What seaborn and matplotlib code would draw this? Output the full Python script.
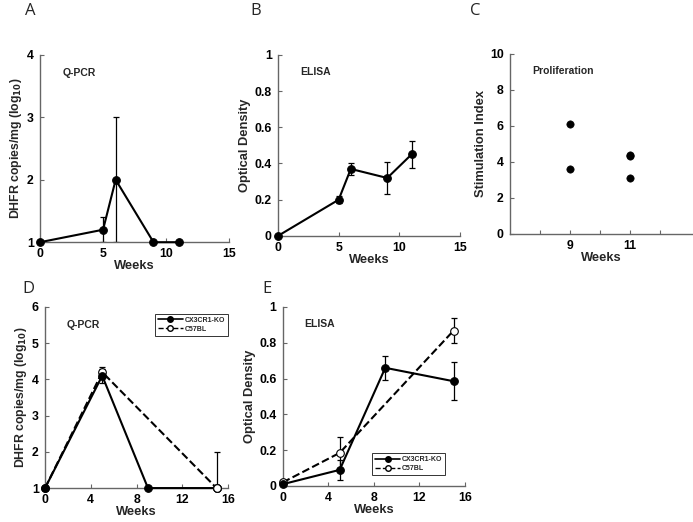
import numpy as np
import pandas as pd
import matplotlib
matplotlib.use("Agg")
import matplotlib.pyplot as plt
import seaborn as sns
from matplotlib.lines import Line2D

sns.set_style("ticks")
plt.rcParams['font.family'] = ['Liberation Sans', 'DejaVu Sans']

# --- data ---
# A: Q-PCR
a_weeks = [0, 5, 6, 9, 11]
a_vals = [1.0, 1.2, 2.0, 1.0, 1.0]
a_err = [0, 0.2, 1.0, 0, 0]

# B: ELISA
b_weeks = [0, 5, 6, 9, 11]
b_vals = [0.0, 0.2, 0.37, 0.32, 0.45]
b_err = [0, 0.02, 0.035, 0.087, 0.075]

# C: proliferation
c_weeks = [9, 9, 11, 11, 11]
c_vals = [6.1, 3.6, 4.4, 4.3, 3.1]

# D: Q-PCR, two strains
d_ko_weeks = [0, 5, 9, 15]
d_ko_vals = [1.0, 4.1, 1.0, 1.0]
d_ko_err = [0, 0.2, 0, 0]
d_wt_weeks = [0, 5, 15]
d_wt_vals = [1.0, 4.2, 1.0]
d_wt_err = [0, 0.15, 1.0]

# E: ELISA, two strains
e_ko_weeks = [0, 5, 9, 15]
e_ko_vals = [0.01, 0.09, 0.66, 0.585]
e_ko_err = [0, 0.055, 0.067, 0.107]
e_wt_weeks = [0, 5, 15]
e_wt_vals = [0.02, 0.185, 0.868]
e_wt_err = [0, 0.087, 0.07]

tick_font = dict(fontsize=8.8, fontweight='bold')
label_font = dict(fontsize=9.3, fontweight='bold')
AXIS_GREY = '#666666'

fig = plt.figure(figsize=(6.93, 5.22), dpi=100)
axA = fig.add_axes([0.0577, 0.536, 0.273, 0.359])
axB = fig.add_axes([0.401, 0.548, 0.263, 0.347])
axC = fig.add_axes([0.736, 0.552, 0.264, 0.345])
axD = fig.add_axes([0.065, 0.065, 0.264, 0.347])
axE = fig.add_axes([0.408, 0.069, 0.263, 0.343])


def style(ax, xlim, ylim, xticks, yticks, xlabels=None, ylabels=None):
    ax.set_xlim(*xlim)
    ax.set_ylim(*ylim)
    ax.set_xticks(xticks)
    ax.set_yticks(yticks)
    ax.set_xticklabels(xlabels if xlabels is not None else [str(t) for t in xticks], **tick_font)
    ax.set_yticklabels(ylabels if ylabels is not None else [str(t) for t in yticks], **tick_font)
    ax.tick_params(direction='in', length=3, width=0.8, pad=4.5, color=AXIS_GREY, labelcolor='black')
    for s in ['top', 'right']:
        ax.spines[s].set_visible(False)
    for s in ['left', 'bottom']:
        ax.spines[s].set_linewidth(1.0)
        ax.spines[s].set_color(AXIS_GREY)
    ax.set_xlabel('Weeks', labelpad=0, **label_font)


def line(ax, x, y, err, dashed=False, filled=True):
    ax.errorbar(x, y, yerr=err, fmt='none', ecolor='black', elinewidth=0.9,
                capsize=2.5, capthick=0.9, zorder=2)
    sns.lineplot(x=x, y=y, ax=ax, color='black', lw=1.5,
                 linestyle='--' if dashed else '-', marker='o', markersize=5.5,
                 markerfacecolor='black' if filled else 'white',
                 markeredgecolor='black', markeredgewidth=0.8,
                 errorbar=None, sort=False, clip_on=False, zorder=3)


# A
line(axA, a_weeks, a_vals, a_err)
style(axA, (0, 15), (1, 4), [0, 5, 10, 15], [1, 2, 3, 4])
axA.set_ylabel('DHFR copies/mg (log$_{\\mathbf{10}}$)', labelpad=2, fontsize=8.8, fontweight='bold')
axA.text(0.12, 0.93, 'Q-PCR', transform=axA.transAxes, fontsize=7.5, fontweight='bold', va='top')

# B
line(axB, b_weeks, b_vals, b_err)
style(axB, (0, 15), (0, 1), [0, 5, 10, 15], [0, 0.2, 0.4, 0.6, 0.8, 1],
      ylabels=['0', '0.2', '0.4', '0.6', '0.8', '1'])
axB.set_ylabel('Optical Density', labelpad=2, **label_font)
axB.text(0.12, 0.93, 'ELISA', transform=axB.transAxes, fontsize=7.5, fontweight='bold', va='top')

# C
sns.scatterplot(x=c_weeks, y=c_vals, ax=axC, color='black', s=28, edgecolor='black', zorder=3)
style(axC, (7, 13.1), (0, 10), [8, 9, 10, 11, 12], [0, 2, 4, 6, 8, 10],
      xlabels=['', '9', '', '11', ''])
axC.set_ylabel('Stimulation Index', labelpad=2, **label_font)
axC.text(0.12, 0.93, 'Proliferation', transform=axC.transAxes, fontsize=7.5, fontweight='bold', va='top')

# D
line(axD, d_wt_weeks, d_wt_vals, d_wt_err, dashed=True, filled=False)
line(axD, d_ko_weeks, d_ko_vals, d_ko_err)
# open circle at week 15 stays on top
axD.plot([d_wt_weeks[-1]], [d_wt_vals[-1]], 'o', ms=5.5, mfc='white', mec='black', mew=0.8,
         clip_on=False, zorder=4)
style(axD, (0, 16), (1, 6), [0, 4, 8, 12, 16], [1, 2, 3, 4, 5, 6])
axD.set_ylabel('DHFR copies/mg (log$_{\\mathbf{10}}$)', labelpad=2, fontsize=8.8, fontweight='bold')
axD.text(0.12, 0.93, 'Q-PCR', transform=axD.transAxes, fontsize=7.5, fontweight='bold', va='top')

# E
line(axE, e_wt_weeks, e_wt_vals, e_wt_err, dashed=True, filled=False)
line(axE, e_ko_weeks, e_ko_vals, e_ko_err)
style(axE, (0, 16), (0, 1), [0, 4, 8, 12, 16], [0, 0.2, 0.4, 0.6, 0.8, 1],
      ylabels=['0', '0.2', '0.4', '0.6', '0.8', '1'])
axE.set_ylabel('Optical Density', labelpad=2, **label_font)
axE.text(0.12, 0.93, 'ELISA', transform=axE.transAxes, fontsize=7.5, fontweight='bold', va='top')

handles = [
    Line2D([], [], color='black', lw=1.2, marker='o', ms=4, mfc='black', mec='black'),
    Line2D([], [], color='black', lw=1.0, ls='--', marker='o', ms=4, mfc='white', mec='black'),
]
names = ['CX3CR1-KO', 'C57BL']
for ax, loc in [(axD, (0.60, 0.84)), (axE, (0.49, 0.06))]:
    leg = ax.legend(handles, names, loc='lower left', bbox_to_anchor=loc,
                    prop=dict(size=5, weight='bold'), frameon=True, fancybox=False,
                    edgecolor='black', handlelength=3.6, handletextpad=0.2,
                    borderpad=0.45, labelspacing=0.3, borderaxespad=0)
    leg.get_frame().set_linewidth(0.7)

for lab, x, y in [('A', 0.036, 0.971), ('B', 0.361, 0.971), ('C', 0.678, 0.971),
                  ('D', 0.032, 0.439), ('E', 0.378, 0.439)]:
    fig.text(x, y, lab, fontsize=12, family=['Open Sans', 'DejaVu Sans'], va='baseline')

fig.savefig('out.png', dpi=100)
